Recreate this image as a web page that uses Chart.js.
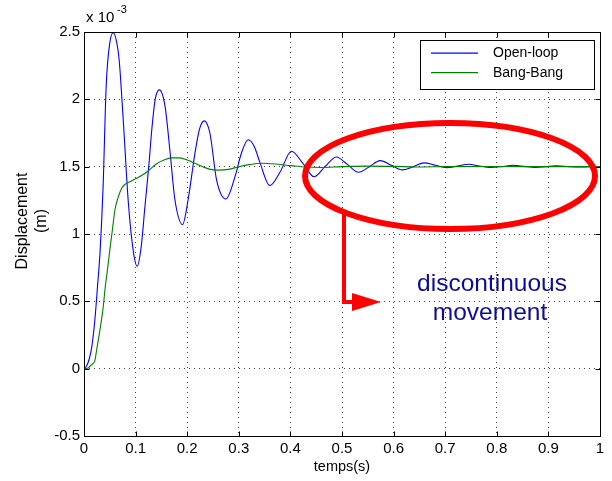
<!DOCTYPE html>
<html>
<head>
<meta charset="utf-8">
<script src="https://cdn.jsdelivr.net/npm/chart.js@4.4.1/dist/chart.umd.min.js"></script>
<style>
  html, body { margin: 0; padding: 0; background: #fff; }
</style>
</head>
<body>
<canvas id="chart" width="612" height="481"></canvas>
<script>
// time (s) and displacement (x 10^-3 m)
const openLoopT = [0, 0.005, 0.01, 0.015, 0.021, 0.026, 0.031, 0.037, 0.043, 0.05, 0.057, 0.063, 0.068, 0.076, 0.086, 0.096, 0.103,
  0.111, 0.118, 0.125, 0.132, 0.138, 0.146, 0.157, 0.167, 0.176, 0.191, 0.202, 0.215, 0.224, 0.233, 0.244, 0.257, 0.275,
  0.293, 0.305, 0.318, 0.33, 0.341, 0.36, 0.38, 0.402, 0.425, 0.446, 0.467, 0.489, 0.511, 0.532, 0.553, 0.574, 0.596,
  0.617, 0.638, 0.659, 0.681, 0.703, 0.724, 0.745, 0.766, 0.787, 0.81, 0.832, 0.853, 0.875, 0.895, 0.915, 0.94, 0.96, 0.98, 1.0];
const openLoopD = [0, 0.02, 0.07, 0.16, 0.36, 0.6, 0.86, 1.35, 2.1, 2.42, 2.494, 2.43, 2.3, 1.85, 1.23, 0.86, 0.76,
  0.91, 1.2, 1.48, 1.8, 2.0, 2.07, 1.95, 1.6, 1.26, 1.07, 1.26, 1.6, 1.78, 1.84, 1.75, 1.4, 1.26,
  1.43, 1.6, 1.7, 1.65, 1.53, 1.36, 1.46, 1.614, 1.52, 1.425, 1.5, 1.572, 1.515, 1.458, 1.5, 1.545, 1.51,
  1.476, 1.5, 1.528, 1.51, 1.493, 1.505, 1.518, 1.505, 1.494, 1.5, 1.51, 1.502, 1.494, 1.5, 1.506, 1.5, 1.497, 1.5, 1.5];

const bangBangT = [0, 0.008, 0.012, 0.018, 0.021, 0.025, 0.031, 0.037, 0.041, 0.046, 0.05, 0.055, 0.06, 0.066, 0.073, 0.08,
  0.09, 0.1, 0.11, 0.125, 0.14, 0.155, 0.17, 0.185, 0.2, 0.215, 0.23, 0.245, 0.26, 0.28, 0.3, 0.32, 0.345, 0.37,
  0.4, 0.43, 0.46, 0.5, 0.55, 0.6, 0.65, 0.7, 0.8, 0.9, 1.0];
const bangBangD = [0, 0.005, 0.02, 0.04, 0.06, 0.15, 0.29, 0.45, 0.6, 0.75, 0.88, 1.03, 1.18, 1.27, 1.34, 1.37,
  1.39, 1.41, 1.43, 1.47, 1.52, 1.55, 1.565, 1.565, 1.55, 1.525, 1.5, 1.48, 1.474, 1.48, 1.5, 1.515, 1.525, 1.52,
  1.508, 1.497, 1.494, 1.5, 1.504, 1.502, 1.498, 1.5, 1.501, 1.5, 1.5];

const xTicks = [0, 0.1, 0.2, 0.3, 0.4, 0.5, 0.6, 0.7, 0.8, 0.9, 1];
const xTickLabels = ['0', '0.1', '0.2', '0.3', '0.4', '0.5', '0.6', '0.7', '0.8', '0.9', '1'];
const yTicks = [-0.5, 0, 0.5, 1, 1.5, 2, 2.5];
const yTickLabels = ['-0.5', '0', '0.5', '1', '1.5', '2', '2.5'];

const FONT = '"Liberation Sans", Arial, sans-serif';

const toPoints = (xs, ys) => xs.map((v, i) => ({x: v, y: ys[i]}));

// MATLAB-like frame, inner ticks, labels, legend and the red annotation
const decorations = {
  id: 'decorations',
  afterDraw(chart) {
    const ctx = chart.ctx;
    const a = chart.chartArea;
    const sx = chart.scales.x, sy = chart.scales.y;
    const line = (x1, y1, x2, y2) => { ctx.beginPath(); ctx.moveTo(x1, y1); ctx.lineTo(x2, y2); ctx.stroke(); };
    ctx.save();

    ctx.strokeStyle = '#000';
    ctx.lineWidth = 1;
    const L = Math.round(a.left) + 0.5, R = Math.round(a.right) + 0.5;
    const T = Math.round(a.top) + 0.5, B = Math.round(a.bottom) + 0.5;
    ctx.strokeRect(L, T, R - L, B - T);
    xTicks.forEach(v => {
      const px = Math.round(sx.getPixelForValue(v)) + 0.5;
      line(px, B, px, B - 5);
      line(px, T, px, T + 5);
    });
    yTicks.forEach(v => {
      const py = Math.round(sy.getPixelForValue(v)) + 0.5;
      line(L, py, L + 5, py);
      line(R, py, R - 5, py);
    });

    // exponent
    ctx.fillStyle = '#000';
    ctx.textBaseline = 'alphabetic';
    ctx.textAlign = 'left';
    ctx.font = '15px ' + FONT;
    ctx.fillText('x 10', 86, 22);
    ctx.font = '11px ' + FONT;
    ctx.fillText('-3', 117, 13);

    // axis titles
    ctx.textAlign = 'center';
    ctx.textBaseline = 'middle';
    ctx.font = '14.5px ' + FONT;
    ctx.fillText('temps(s)', (a.left + a.right) / 2, 467);
    ctx.save();
    ctx.translate(23, 221);
    ctx.rotate(-Math.PI / 2);
    ctx.font = '16px ' + FONT;
    ctx.fillText('Displacement', 0, 0);
    ctx.fillText('(m)', 0, 19);
    ctx.restore();

    // legend
    ctx.fillStyle = '#fff';
    ctx.fillRect(420, 40, 174, 49);
    ctx.strokeStyle = '#000';
    ctx.strokeRect(420.5, 40.5, 174, 49);
    ctx.font = '14px ' + FONT;
    ctx.textAlign = 'left';
    chart.data.datasets.forEach((ds, i) => {
      const yy = 53.5 + i * 19.5;
      ctx.strokeStyle = ds.borderColor;
      ctx.lineWidth = 1.2;
      line(431, yy - 0.3, 478, yy - 0.3);
      ctx.fillStyle = '#000';
      ctx.fillText(ds.label, 493, yy);
    });

    // red ellipse and arrow
    ctx.strokeStyle = '#ff0000';
    ctx.lineWidth = 6;
    ctx.beginPath();
    ctx.ellipse(450, 176, 145, 53, 0, 0, Math.PI * 2);
    ctx.stroke();
    ctx.lineWidth = 4;
    ctx.beginPath();
    ctx.moveTo(344, 213);
    ctx.lineTo(344, 302);
    ctx.lineTo(356, 302);
    ctx.stroke();
    ctx.fillStyle = '#ff0000';
    ctx.beginPath();
    ctx.moveTo(352, 293);
    ctx.lineTo(381, 302);
    ctx.lineTo(352, 311);
    ctx.closePath();
    ctx.fill();

    ctx.fillStyle = '#0c0c96';
    ctx.font = '24.5px ' + FONT;
    ctx.textAlign = 'center';
    ctx.textBaseline = 'alphabetic';
    ctx.fillText('discontinuous', 492, 291);
    ctx.fillText('movement', 490, 320);
    ctx.restore();
  }
};

new Chart(document.getElementById('chart').getContext('2d'), {
  type: 'line',
  data: {
    datasets: [{
      label: 'Open-loop',
      data: toPoints(openLoopT, openLoopD),
      borderColor: '#0000ff',
      borderWidth: 1.1,
      pointRadius: 0,
      cubicInterpolationMode: 'monotone',
      order: 1
    }, {
      label: 'Bang-Bang',
      data: toPoints(bangBangT, bangBangD),
      borderColor: '#008000',
      borderWidth: 1.1,
      pointRadius: 0,
      cubicInterpolationMode: 'monotone',
      order: 0
    }]
  },
  options: {
    responsive: false,
    animation: false,
    events: [],
    layout: { padding: { left: 0, right: 12, top: 32, bottom: 0 } },
    plugins: {
      legend: { display: false },
      tooltip: { enabled: false }
    },
    scales: {
      x: {
        type: 'linear',
        min: 0,
        max: 1,
        afterBuildTicks: scale => { scale.ticks = xTicks.map(v => ({value: v})); },
        afterFit: scale => { scale.height = 45; },
        ticks: {
          autoSkip: false,
          maxRotation: 0,
          padding: 4,
          color: '#000',
          font: { family: FONT, size: 15 },
          callback: (value, i) => xTickLabels[i]
        },
        grid: {
          color: 'rgba(0,0,0,0.75)',
          lineWidth: 1,
          drawTicks: false
        },
        border: { display: false, dash: [1, 4] }
      },
      y: {
        type: 'linear',
        min: -0.5,
        max: 2.5,
        afterBuildTicks: scale => { scale.ticks = yTicks.map(v => ({value: v})); },
        afterFit: scale => { scale.width = 84; },
        ticks: {
          autoSkip: false,
          padding: 4,
          color: '#000',
          font: { family: FONT, size: 15 },
          callback: (value, i) => yTickLabels[i]
        },
        grid: {
          color: 'rgba(0,0,0,0.75)',
          lineWidth: 1,
          drawTicks: false
        },
        border: { display: false, dash: [1, 4] }
      }
    }
  },
  plugins: [decorations]
});
</script>
</body>
</html>
